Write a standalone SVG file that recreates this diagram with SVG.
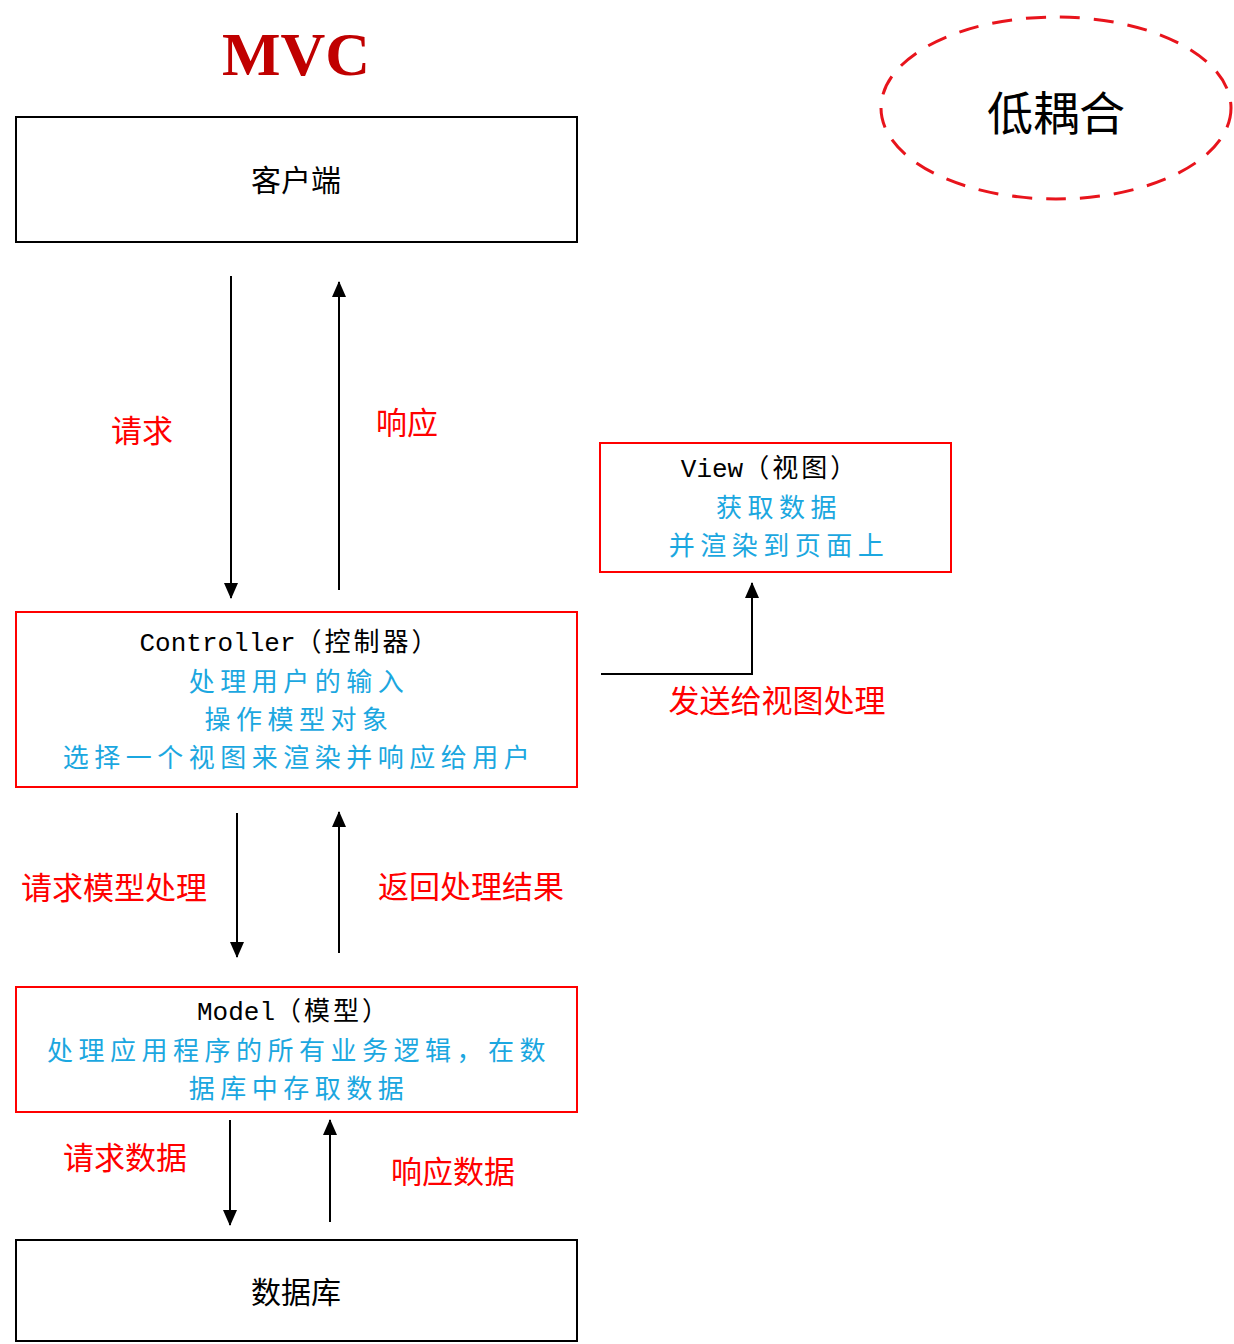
<svg xmlns="http://www.w3.org/2000/svg" width="1234" height="1344" viewBox="0 0 1234 1344">
<style>
.box{fill:#fff;stroke:#000;stroke-width:2}
.rbox{fill:#fff;stroke:#ff0000;stroke-width:2}
.t{font-family:"Liberation Mono","Noto Sans CJK SC",monospace;font-size:26px;fill:#000;text-anchor:middle}
.tz{font-family:"Noto Sans CJK SC",sans-serif;font-size:26px;letter-spacing:3px}
.cj{font-family:"Noto Sans CJK SC",sans-serif;font-size:30px;fill:#000;text-anchor:middle;dominant-baseline:central}
.b{font-family:"Noto Sans CJK SC",sans-serif;font-size:26px;letter-spacing:5.5px;fill:#1ba7e0;text-anchor:middle;dominant-baseline:central}
.r{font-family:"Noto Sans CJK SC",sans-serif;font-size:31px;fill:#ff0000;text-anchor:middle;dominant-baseline:central}
.ln{stroke:#000;stroke-width:2;fill:none;marker-end:url(#ah)}
</style>
<defs>
<marker id="ah" viewBox="0 0 16 14" refX="15" refY="7" markerWidth="16" markerHeight="14" markerUnits="userSpaceOnUse" orient="auto">
<path d="M0,0 L16,7 L0,14 z" fill="#000"/>
</marker>
</defs>
<rect width="1234" height="1344" fill="#fff"/>
<g id="title">
<text x="296" y="75" font-family="Liberation Serif,serif" font-weight="bold" font-size="62" fill="#c00000" text-anchor="middle">MVC</text>
</g>
<g id="lowcoupling">
<ellipse cx="1056" cy="108" rx="175" ry="91" fill="none" stroke="#e8141c" stroke-width="3" stroke-dasharray="20,14"/>
<text x="1056" y="110" class="cj" style="font-size:46px">低耦合</text>
</g>
<g id="client">
<rect class="box" x="16" y="117" width="561" height="125"/>
<text class="cj" x="296" y="178">客户端</text>
</g>
<g id="controller">
<rect class="rbox" x="16" y="612" width="561" height="175"/>
<text class="t" x="290" y="651">Controller<tspan class="tz">（控制器）</tspan></text>
<text class="b" x="299" y="679">处理用户的输入</text>
<text class="b" x="299" y="717">操作模型对象</text>
<text class="b" x="299" y="755">选择一个视图来渲染并响应给用户</text>
</g>
<g id="view">
<rect class="rbox" x="600" y="443" width="351" height="129"/>
<text class="t" x="770" y="477">View<tspan class="tz">（视图）</tspan></text>
<text class="b" x="779" y="505">获取数据</text>
<text class="b" x="779" y="543">并渲染到页面上</text>
</g>
<g id="model">
<rect class="rbox" x="16" y="987" width="561" height="125"/>
<text class="t" x="294" y="1020">Model<tspan class="tz">（模型）</tspan></text>
<text class="b" x="299" y="1048">处理应用程序的所有业务逻辑，在数</text>
<text class="b" x="299" y="1086">据库中存取数据</text>
</g>
<g id="database">
<rect class="box" x="16" y="1240" width="561" height="101"/>
<text class="cj" x="296" y="1290">数据库</text>
</g>
<g id="connectors">
<line class="ln" x1="231" y1="276" x2="231" y2="598"/>
<line class="ln" x1="339" y1="590" x2="339" y2="282"/>
<polyline class="ln" points="601,674 752,674 752,583"/>
<line class="ln" x1="237" y1="813" x2="237" y2="957"/>
<line class="ln" x1="339" y1="953" x2="339" y2="812"/>
<line class="ln" x1="230" y1="1120" x2="230" y2="1225"/>
<line class="ln" x1="330" y1="1222" x2="330" y2="1120"/>
</g>
<g id="labels">
<text class="r" x="142" y="428">请求</text>
<text class="r" x="407" y="420">响应</text>
<text class="r" x="777" y="698">发送给视图处理</text>
<text class="r" x="114" y="885">请求模型处理</text>
<text class="r" x="471" y="884">返回处理结果</text>
<text class="r" x="125" y="1155">请求数据</text>
<text class="r" x="453" y="1169">响应数据</text>
</g>
</svg>
